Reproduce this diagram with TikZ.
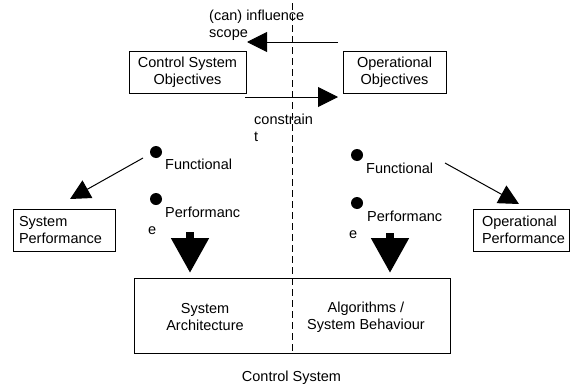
\documentclass[tikz,border=0pt]{standalone}
\usepackage{fontspec}
\setmainfont{Liberation Sans}
\usetikzlibrary{arrows.meta}
\tikzset{%
	block/.style     = {draw, line width=1pt, rectangle, minimum height=42pt,
		inner sep=0pt},
	txt/.style       = {inner sep=0pt, align=left, anchor=west}, % free text
	bulletdot/.style = {circle, fill, inner sep=0pt, minimum size=12pt},
	flowarrow/.style = {line width=1pt, -{Triangle[length=20pt,width=20pt]}},
	bigarrow/.style  = {line width=8pt, -{Triangle[length=35pt,width=36pt]}},
	divider/.style   = {line width=1pt, dash pattern=on 7pt off 4pt}
}

\begin{document}
\begin{tikzpicture}[x=1pt, y=-1pt, font=\fontsize{14.5}{17}\selectfont]
			\useasboundingbox (0,0) rectangle (570,388);
			\node[block, minimum width=117pt, align=center] (csobj)   at (187.5,72) {Control System\\Objectives};
            \node[block, minimum width=103pt, align=center] (opobj)   at (394.5,72) {Operational\\Objectives};
            \node[block, align=left, inner xsep=6pt, text width=90pt]   (sysperf) at (64,230)   {System\\Performance};
            \node[block, align=left, inner xsep=9pt, text width=78.5pt] (opperf)  at (521.25,230) {Operational\\Performance};
            \node[draw, line width=1pt, minimum width=316pt, minimum height=75pt, inner sep=0pt] (cs) at (292,315.5) {};
            \node[align=center, inner sep=0pt] (arch) at (205,317) {System\\Architecture};
            \node[align=center, inner sep=0pt] (algo) at (366,317) {Algorithms /\\System Behaviour};
            \node[inner sep=0pt] (cslabel) at (291.5,378) {Control System};

            \node[txt] (inftxt) at (209,25)    {(can) influence\\scope};
            \node[txt] (contxt) at (254,127.5) {constrain\\t};

            \node[bulletdot] (funL)  at (156,152) {};
            \node[bulletdot] (perfL) at (156,199) {};
            \node[bulletdot] (funR)  at (357,155) {};
            \node[bulletdot] (perfR) at (357,203) {};
            \node[txt] (funLtxt)  at (165,164) {Functional};
            \node[txt] (perfLtxt) at (148,221) {\hspace*{17pt}Performanc\\e};
            \node[txt] (funRtxt)  at (366,168) {Functional};
            \node[txt] (perfRtxt) at (349,225) {\hspace*{18pt}Performanc\\e};

            \coordinate (dtop)     at (292,3);
            \coordinate (infstart) at (338,42);
            \coordinate (infend)   at (247,42);
            \coordinate (constart) at (245,97);
            \coordinate (conend)   at (338,97);
            \coordinate (flstart)  at (143,158);
            \coordinate (flend)    at (70,199);
            \coordinate (frstart)  at (445,163);
            \coordinate (frend)    at (519,204);
            \coordinate (plstart)  at (190,232);
            \coordinate (plend)    at (190,273);
            \coordinate (prstart)  at (390,233);
            \coordinate (prend)    at (390,273);

			\draw[divider]   (dtop)     -- (cs.south);
            \draw[flowarrow] (infstart) -- (infend);
            \draw[flowarrow] (constart) -- (conend);
            \draw[flowarrow] (flstart)  -- (flend);
            \draw[flowarrow] (frstart)  -- (frend);
            \draw[bigarrow]  (plstart)  -- (plend);
            \draw[bigarrow]  (prstart)  -- (prend);
		\end{tikzpicture}
\end{document}
